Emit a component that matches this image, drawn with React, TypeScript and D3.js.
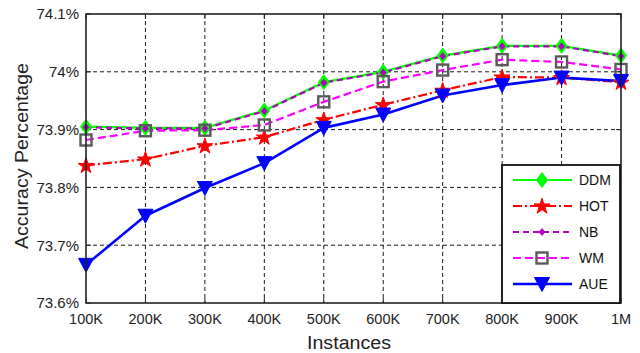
import React from "react";
import * as d3 from "d3";

// Instance counts (thousands) and their axis labels
const instances = [100, 200, 300, 400, 500, 600, 700, 800, 900, 1000];
const xTickLabels = ["100K", "200K", "300K", "400K", "500K", "600K", "700K", "800K", "900K", "1M"];
const yTicks = [73.6, 73.7, 73.8, 73.9, 74.0, 74.1];
const yTickLabels = ["73.6%", "73.7%", "73.8%", "73.9%", "74%", "74.1%"];

// Accuracy (%) per method
const ddm = [73.905, 73.903, 73.903, 73.933, 73.982, 74.0, 74.028, 74.045, 74.045, 74.028];
const hot = [73.838, 73.849, 73.872, 73.887, 73.917, 73.943, 73.968, 73.991, 73.99, 73.982];
const nb = [73.904, 73.902, 73.902, 73.932, 73.981, 73.999, 74.027, 74.044, 74.044, 74.027];
const wm = [73.882, 73.898, 73.899, 73.908, 73.948, 73.983, 74.003, 74.021, 74.017, 74.004];
const aue = [73.666, 73.751, 73.799, 73.842, 73.903, 73.926, 73.959, 73.977, 73.99, 73.984];

const seriesNames = ["DDM", "HOT", "NB", "WM", "AUE"];

type Marker = "diamond" | "star" | "dot" | "square" | "triangle";
interface Series {
  name: string;
  values: number[];
  color: string;
  width: number;
  dash?: string;
  marker: Marker;
}

const series: Series[] = [
  { name: seriesNames[0], values: ddm, color: "#00ff00", width: 2.2, marker: "diamond" },
  { name: seriesNames[1], values: hot, color: "#ff0000", width: 2.2, dash: "9,3,2,3", marker: "star" },
  { name: seriesNames[2], values: nb, color: "#b000c0", width: 2.2, dash: "6,4", marker: "dot" },
  { name: seriesNames[3], values: wm, color: "#ff00ff", width: 2.2, dash: "8,4", marker: "square" },
  { name: seriesNames[4], values: aue, color: "#0000ff", width: 2.6, marker: "triangle" },
];

const W = 640;
const H = 353;
const plot = { left: 86, right: 621, top: 14, bottom: 303 };
const font = "Arial, 'Liberation Sans', Helvetica, sans-serif";

const starPath = d3.symbol(d3.symbolStar, 78)() as string;

function MarkerShape({ kind, x, y, color }: { kind: Marker; x: number; y: number; color: string }) {
  switch (kind) {
    case "diamond":
      return (
        <path
          d={`M${x},${y - 7.5}L${x + 5.5},${y}L${x},${y + 7.5}L${x - 5.5},${y}Z`}
          fill={color}
          stroke={color}
          strokeWidth={1}
        />
      );
    case "star":
      return <path d={starPath} transform={`translate(${x},${y + 0.5})`} fill={color} stroke={color} strokeWidth={1} />;
    case "dot":
      return (
        <path
          d={`M${x},${y - 3.5}L${x + 3},${y}L${x},${y + 3.5}L${x - 3},${y}Z`}
          fill={color}
          stroke={color}
          strokeWidth={0.8}
        />
      );
    case "square":
      return <rect x={x - 5.5} y={y - 5.5} width={11} height={11} fill="none" stroke="#5a5a5a" strokeWidth={2.4} />;
    case "triangle":
      return (
        <path
          d={`M${x - 7.5},${y - 6.5}L${x + 7.5},${y - 6.5}L${x},${y + 7.5}Z`}
          fill={color}
          stroke={color}
          strokeWidth={1}
        />
      );
  }
}

export default function App() {
  const x = d3.scaleLinear().domain([100, 1000]).range([plot.left, plot.right]);
  const y = d3.scaleLinear().domain([73.6, 74.1]).range([plot.bottom, plot.top]);
  const line = d3
    .line<number>()
    .x((_, i) => x(instances[i]))
    .y((v) => y(v));

  const legend = { x0: 502, y0: 165, x1: 620, y1: 303 };
  const legendRowY = (i: number) => 180 + i * 26;

  return (
    <svg
      width={W}
      height={H}
      style={{ position: "fixed", left: 0, top: 0, background: "#fff" }}
      fontFamily={font}
    >
      <rect x={0} y={0} width={W} height={H} fill="#fff" />

      {/* grid */}
      <g stroke="#1a1a1a" strokeWidth={1} strokeDasharray="4,3">
        {instances.slice(1, -1).map((v) => (
          <line key={`gx${v}`} x1={x(v)} x2={x(v)} y1={plot.top} y2={plot.bottom} />
        ))}
        {yTicks.slice(1, -1).map((v) => (
          <line key={`gy${v}`} x1={plot.left} x2={plot.right} y1={y(v)} y2={y(v)} />
        ))}
      </g>

      {/* inward tick marks */}
      <g stroke="#222" strokeWidth={1}>
        {instances.map((v) => (
          <g key={`tx${v}`}>
            <line x1={x(v)} x2={x(v)} y1={plot.bottom} y2={plot.bottom - 5} />
            <line x1={x(v)} x2={x(v)} y1={plot.top} y2={plot.top + 5} />
          </g>
        ))}
        {yTicks.map((v) => (
          <g key={`ty${v}`}>
            <line x1={plot.left} x2={plot.left + 5} y1={y(v)} y2={y(v)} />
            <line x1={plot.right} x2={plot.right - 5} y1={y(v)} y2={y(v)} />
          </g>
        ))}
      </g>

      {/* series lines */}
      {series.map((s) => (
        <path
          key={`l${s.name}`}
          d={line(s.values) as string}
          fill="none"
          stroke={s.color}
          strokeWidth={s.width}
          strokeDasharray={s.dash}
          strokeLinejoin="round"
        />
      ))}
      {/* series markers */}
      {series.map((s) => (
        <g key={`m${s.name}`}>
          {s.values.map((v, i) => (
            <MarkerShape key={i} kind={s.marker} x={x(instances[i])} y={y(v)} color={s.color} />
          ))}
        </g>
      ))}

      {/* plot frame */}
      <rect
        x={plot.left}
        y={plot.top}
        width={plot.right - plot.left}
        height={plot.bottom - plot.top}
        fill="none"
        stroke="#222"
        strokeWidth={1.6}
      />

      {/* legend */}
      <rect
        x={legend.x0}
        y={legend.y0}
        width={legend.x1 - legend.x0}
        height={legend.y1 - legend.y0}
        fill="#fff"
        stroke="#111"
        strokeWidth={1.8}
      />
      {series.map((s, i) => {
        const ly = legendRowY(i);
        return (
          <g key={`lg${s.name}`}>
            <line x1={513} x2={572} y1={ly} y2={ly} stroke={s.color} strokeWidth={s.width} strokeDasharray={s.dash} />
            <MarkerShape kind={s.marker} x={542} y={ly} color={s.color} />
            <text x={579} y={ly} dy="0.36em" fontSize={14} fill="#111">
              {s.name}
            </text>
          </g>
        );
      })}

      {/* y tick labels */}
      {yTicks.map((v, i) => (
        <text key={`yl${v}`} x={79} y={y(v)} dy="0.36em" textAnchor="end" fontSize={15} fill="#222">
          {yTickLabels[i]}
        </text>
      ))}

      {/* x tick labels */}
      {instances.map((v, i) => (
        <text key={`xl${v}`} x={x(v)} y={324} textAnchor="middle" fontSize={14.5} fill="#222">
          {xTickLabels[i]}
        </text>
      ))}

      {/* axis titles */}
      <text
        x={349}
        y={349}
        textAnchor="middle"
        fontSize={18}
        fill="#222"
        textLength={84}
        lengthAdjust="spacingAndGlyphs"
      >
        Instances
      </text>
      <text
        transform={`translate(28,156) rotate(-90)`}
        textAnchor="middle"
        fontSize={18}
        fill="#222"
        textLength={186}
        lengthAdjust="spacingAndGlyphs"
      >
        Accuracy Percentage
      </text>
    </svg>
  );
}
